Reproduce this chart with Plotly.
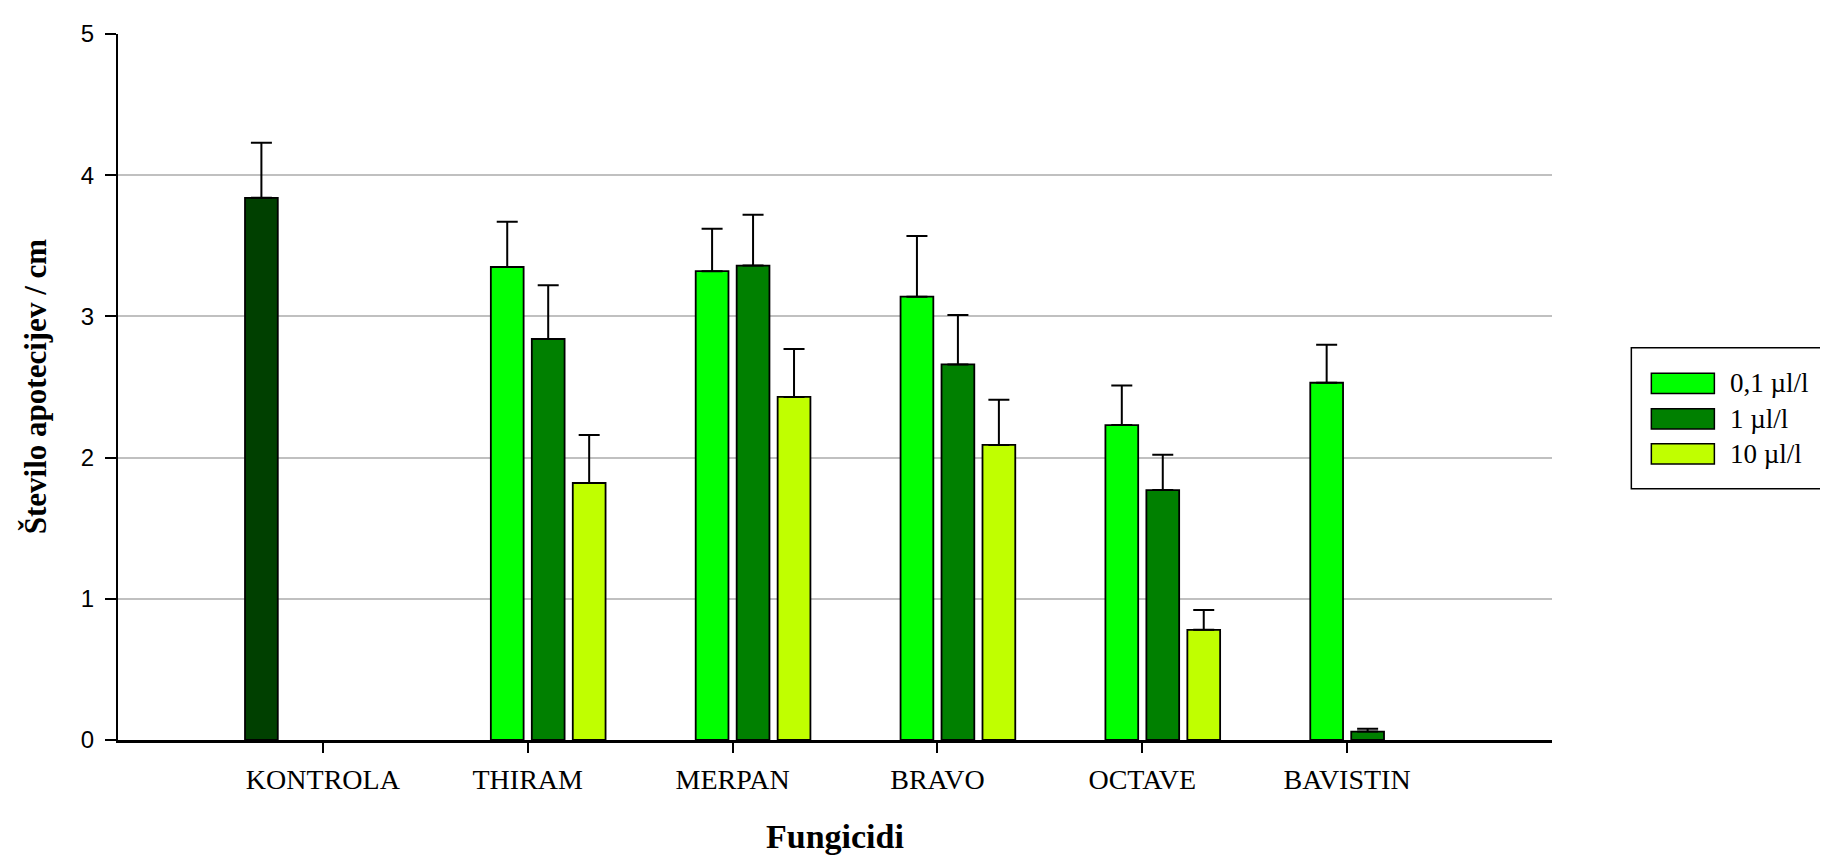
import plotly.graph_objects as go

# ---- data ----
categories = ["KONTROLA", "THIRAM", "MERPAN", "BRAVO", "OCTAVE", "BAVISTIN"]
series_names = ["0,1 µl/l", "1 µl/l", "10 µl/l"]
kontrola_vals = [3.84, None, None, None, None, None]
kontrola_err = [0.39, None, None, None, None, None]
vals_01 = [None, 3.35, 3.32, 3.14, 2.23, 2.53]
err_01 = [None, 0.32, 0.30, 0.43, 0.28, 0.27]
vals_1 = [None, 2.84, 3.36, 2.66, 1.77, 0.06]
err_1 = [None, 0.38, 0.36, 0.35, 0.25, 0.02]
vals_10 = [None, 1.82, 2.43, 2.09, 0.78, None]
err_10 = [None, 0.34, 0.34, 0.32, 0.14, None]
yticks = [0, 1, 2, 3, 4, 5]

colors = {"kontrola": "#004000", "0,1 µl/l": "#00FF00", "1 µl/l": "#008000", "10 µl/l": "#C0FF00"}

# page geometry (the page body has an 8px default margin)
PAGE_W, PAGE_H = 1828, 859
OFF = 8
L, R, T, B = 118.3, 1551.7, 23.3, 740.0   # plot area in page pixels

xpos = list(range(1, len(categories) + 1))

fig = go.Figure()

def add_bar(name, y, err, color):
    fig.add_trace(go.Bar(
        x=xpos, y=y, name=name, showlegend=False,
        marker=dict(color=color, line=dict(color="black", width=1.8)),
        error_y=dict(type="data", array=err, symmetric=False,
                     arrayminus=[0 if e is not None else None for e in err],
                     color="black", thickness=2, width=10.5),
    ))

add_bar("KONTROLA", kontrola_vals, kontrola_err, colors["kontrola"])
add_bar(series_names[0], vals_01, err_01, colors[series_names[0]])
add_bar(series_names[1], vals_1, err_1, colors[series_names[1]])
add_bar(series_names[2], vals_10, err_10, colors[series_names[2]])

def px_x(px):
    return (px - L) / (R - L)

def px_y(py):
    return (B - py) / (B - T)

shapes = []
annotations = []

# custom legend
shapes.append(dict(type="rect", xref="paper", yref="paper",
                   x0=px_x(1631), x1=px_x(1836), y0=px_y(341.7), y1=px_y(485),
                   line=dict(color="black", width=1.5), fillcolor="white", layer="above"))
row_centers = [378.0, 414.0, 449.5]
for name, cy in zip(series_names, row_centers):
    shapes.append(dict(type="rect", xref="paper", yref="paper",
                       x0=px_x(1651), x1=px_x(1714), y0=px_y(cy - 10.3), y1=px_y(cy + 10.3),
                       line=dict(color="black", width=1.5), fillcolor=colors[name], layer="above"))
    annotations.append(dict(text=name, xref="paper", yref="paper", x=px_x(1728), y=px_y(cy),
                            xanchor="left", yanchor="middle", showarrow=False,
                            font=dict(family="Liberation Serif, Times New Roman, serif", size=27, color="black")))

# axis titles
annotations.append(dict(text="<b>Število apotecijev / cm</b>", xref="paper", yref="paper",
                        x=0, xshift=35.5 - L, y=0.5, xanchor="center", yanchor="middle",
                        textangle=-90, showarrow=False,
                        font=dict(family="Liberation Serif, Times New Roman, serif", size=31, color="black")))
annotations.append(dict(text="<b>Fungicidi</b>", xref="paper", yref="paper",
                        x=0.5, y=0, yshift=-(836 - B), xanchor="center", yanchor="middle",
                        showarrow=False,
                        font=dict(family="Liberation Serif, Times New Roman, serif", size=34, color="black")))

fig.update_layout(
    width=PAGE_W - OFF, height=PAGE_H - OFF,
    margin=dict(l=L - OFF, r=PAGE_W - R, t=T - OFF, b=PAGE_H - B, pad=0),
    paper_bgcolor="white", plot_bgcolor="white",
    barmode="group", bargap=0.2, bargroupgap=0.2,
    showlegend=False,
    shapes=shapes, annotations=annotations,
    xaxis=dict(range=[0, 7], tickmode="array", tickvals=xpos, ticktext=categories,
               ticks="outside", ticklen=10, tickwidth=2, tickcolor="black", ticklabelstandoff=3,
               showline=True, linecolor="black", linewidth=2.5, showgrid=False, zeroline=False,
               tickfont=dict(family="Liberation Serif, Times New Roman, serif", size=28, color="black")),
    yaxis=dict(range=[0, 5], tickmode="array", tickvals=yticks,
               ticks="outside", ticklen=11, tickwidth=2, tickcolor="black", ticklabelstandoff=6,
               showline=True, linecolor="black", linewidth=2, showgrid=True,
               gridcolor="#C0C0C0", gridwidth=1.5, zeroline=False,
               tickfont=dict(family="Liberation Sans, Arial, sans-serif", size=24, color="black")),
)

fig.write_html("out.html")
